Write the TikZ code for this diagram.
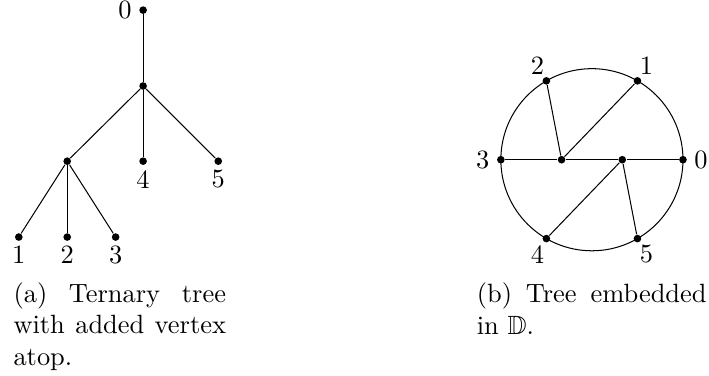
\documentclass[tikz,border=0pt]{standalone}
\usepackage{amssymb}
\begin{document}
\begin{tikzpicture}[font=\fontsize{10.4}{12.4}\selectfont,
  vtx/.style={circle,fill,inner sep=0pt,minimum size=3pt},
  lbl/.style={anchor=center},label distance=5.4pt,
  captext/.style={anchor=north west,inner sep=0pt,align=justify}]
\useasboundingbox (0,0) rectangle (9.81,5.19);
% (a) ternary tree with vertex on top
\node[vtx,label={[lbl]left:0}] (t0) at (1.98,5.05) {};
\node[vtx] (tm) at (1.98,4.00) {};
\node[vtx] (ta) at (0.93,2.96) {};
\node[vtx,label={[lbl]below:4}] (t4) at (1.98,2.96) {};
\node[vtx,label={[lbl]below:5}] (t5) at (3.02,2.96) {};
\node[vtx,label={[lbl]below:1}] (t1) at (0.26,1.91) {};
\node[vtx,label={[lbl]below:2}] (t2) at (0.93,1.91) {};
\node[vtx,label={[lbl]below:3}] (t3) at (1.60,1.91) {};
\draw (t0) -- (tm);
\draw (tm) -- (ta);
\draw (tm) -- (t4);
\draw (tm) -- (t5);
\draw (ta) -- (t1);
\draw (ta) -- (t2);
\draw (ta) -- (t3);
\node[captext,text width=2.94cm] (capa) at (0.18,1.29) {(a) Ternary tree\linebreak with added vertex\linebreak atop.};
% (b) the same tree in the disc
\begin{scope}[shift={(8.19,2.98)}]
\draw (0,0) circle (1.26);
\node[vtx,label={[lbl]0:0}] (d0) at (0:1.26) {};
\node[vtx,label={[lbl]60:1}] (d1) at (60:1.26) {};
\node[vtx,label={[lbl]120:2}] (d2) at (120:1.26) {};
\node[vtx,label={[lbl]180:3}] (d3) at (180:1.26) {};
\node[vtx,label={[lbl]240:4}] (d4) at (240:1.26) {};
\node[vtx,label={[lbl]300:5}] (d5) at (300:1.26) {};
\node[vtx] (dl) at (-0.42,0) {};
\node[vtx] (dr) at (0.42,0) {};
\end{scope}
\draw (d3) -- (dl);
\draw (dl) -- (d1);
\draw (dl) -- (d2);
\draw (dl) -- (dr);
\draw (dr) -- (d0);
\draw (dr) -- (d4);
\draw (dr) -- (d5);
\node[captext,text width=3.18cm] (capb) at (6.59,1.28) {(b) Tree embedded\linebreak in $\mathbb{D}$.};
\end{tikzpicture}
\end{document}
